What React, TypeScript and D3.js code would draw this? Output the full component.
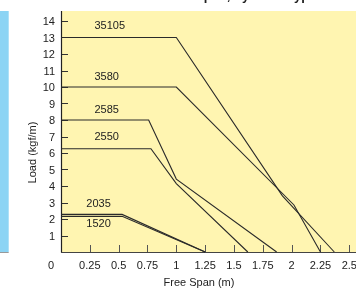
import React, { useEffect, useRef } from "react";
import * as d3 from "d3";

// cable series: [free span (m), load (kgf/m)]
const cableNames = ["35105", "3580", "2585", "2550", "2035", "1520"];
const span35105 = [0, 1, 1.92, 2.37];
const load35105 = [13, 13, 3.4, 0];
const span3580 = [0, 1, 2.02, 2.25];
const load3580 = [10, 10, 2.85, 0];
const span2585 = [0, 0.76, 1.0, 1.87];
const load2585 = [8, 8, 4.42, 0];
const span2550 = [0, 0.78, 1.0, 1.62];
const load2550 = [6.26, 6.26, 4.15, 0];
const span2035 = [0, 0.53, 1.25];
const load2035 = [2.28, 2.28, 0];
const span1520 = [0, 0.53, 1.25];
const load1520 = [2.16, 2.16, 0];

const xTicks = [0.25, 0.5, 0.75, 1, 1.25, 1.5, 1.75, 2, 2.25, 2.5];
const xTickLabels = ["0.25", "0.5", "0.75", "1", "1.25", "1.5", "1.75", "2", "2.25", "2.5"];
const yTicks = [1, 2, 3, 4, 5, 6, 7, 8, 9, 10, 11, 12, 13, 14];

// where each name label sits: [span, load]
const labelSpan = [0.29, 0.29, 0.29, 0.29, 0.22, 0.22];
const labelLoad = [13.5, 10.45, 8.45, 6.8, 2.75, 1.5];

const seriesSpans = [span35105, span3580, span2585, span2550, span2035, span1520];
const seriesLoads = [load35105, load3580, load2585, load2550, load2035, load1520];

export default function App() {
  const ref = useRef<SVGSVGElement>(null);

  useEffect(() => {
    const W = 356, H = 290;
    const svg = d3.select(ref.current);
    svg.selectAll("*").remove();

    const x = d3.scaleLinear().domain([0, 2.5]).range([61, 349.3]);
    const y = d3.scaleLinear().domain([0, 14]).range([252, 21]);
    const font = "'Liberation Sans', Arial, sans-serif";

    // clipped title at top
    svg.append("text")
      .attr("x", 212).attr("y", 0)
      .attr("text-anchor", "middle")
      .attr("font-family", font).attr("font-weight", "bold").attr("font-size", 13)
      .attr("fill", "#222")
      .text("Load vs. Free Span, by cable type");

    // blue side strip
    svg.append("rect").attr("x", 0).attr("y", 11).attr("width", 8.7).attr("height", 241)
      .attr("fill", "#8cd4f4");
    svg.append("line").attr("x1", 0).attr("x2", 8.7).attr("y1", 252.5).attr("y2", 252.5)
      .attr("stroke", "#999").attr("stroke-width", 1);

    // plot background
    svg.append("rect").attr("x", 61).attr("y", 11).attr("width", W - 61).attr("height", 241)
      .attr("fill", "#fff5b1");

    const g = svg.append("g");

    // y ticks (inside) and labels
    g.selectAll(".yt").data(yTicks).join("line").attr("class", "yt")
      .attr("x1", 61).attr("x2", 68)
      .attr("y1", d => Math.round(y(d)) + 0.5).attr("y2", d => Math.round(y(d)) + 0.5)
      .attr("stroke", "#333").attr("stroke-width", 1);
    g.selectAll(".yl").data(yTicks).join("text").attr("class", "yl")
      .attr("x", 55).attr("y", d => y(d) + 4)
      .attr("text-anchor", "end")
      .attr("font-family", font).attr("font-size", 11).attr("fill", "#222")
      .text(d => d);

    // x ticks (inside) and labels
    g.selectAll(".xt").data(xTicks).join("line").attr("class", "xt")
      .attr("x1", d => Math.round(x(d)) + 0.5).attr("x2", d => Math.round(x(d)) + 0.5)
      .attr("y1", 245).attr("y2", 252)
      .attr("stroke", "#555").attr("stroke-width", 1);
    g.selectAll(".xl").data(xTicks).join("text").attr("class", "xl")
      .attr("x", d => x(d)).attr("y", 269)
      .attr("text-anchor", "middle")
      .attr("font-family", font).attr("font-size", 11).attr("fill", "#222")
      .text((d, i) => xTickLabels[i]);
    g.append("text").attr("x", 54).attr("y", 269).attr("text-anchor", "end")
      .attr("font-family", font).attr("font-size", 11).attr("fill", "#222").text("0");

    // axis lines
    g.append("line").attr("x1", 61.5).attr("x2", 61.5).attr("y1", 11).attr("y2", 252.5)
      .attr("stroke", "#222").attr("stroke-width", 1.2);
    g.append("line").attr("x1", 61).attr("x2", W).attr("y1", 252.5).attr("y2", 252.5)
      .attr("stroke", "#444").attr("stroke-width", 1.2);

    // axis titles
    g.append("text").attr("x", 199).attr("y", 286).attr("text-anchor", "middle")
      .attr("font-family", font).attr("font-size", 11).attr("fill", "#222")
      .text("Free Span (m)");
    g.append("text").attr("transform", "translate(36,152.5) rotate(-90)")
      .attr("text-anchor", "middle")
      .attr("font-family", font).attr("font-size", 11).attr("fill", "#222")
      .text("Load (kgf/m)");

    // series lines
    const line = d3.line<[number, number]>().x(d => x(d[0])).y(d => y(d[1]));
    seriesSpans.forEach((spans, i) => {
      const pts = spans.map((s, j) => [s, seriesLoads[i][j]] as [number, number]);
      g.append("path").attr("d", line(pts))
        .attr("fill", "none").attr("stroke", "#2a2a2a").attr("stroke-width", 1.1);
    });

    // series names
    g.selectAll(".nl").data(cableNames).join("text").attr("class", "nl")
      .attr("x", (d, i) => x(labelSpan[i])).attr("y", (d, i) => y(labelLoad[i]))
      .attr("font-family", font).attr("font-size", 11).attr("fill", "#222")
      .text(d => d);
  }, []);

  return (
    <div style={{ position: "fixed", left: 0, top: 0 }}>
      <svg ref={ref} width={356} height={290} style={{ display: "block" }} />
    </div>
  );
}
